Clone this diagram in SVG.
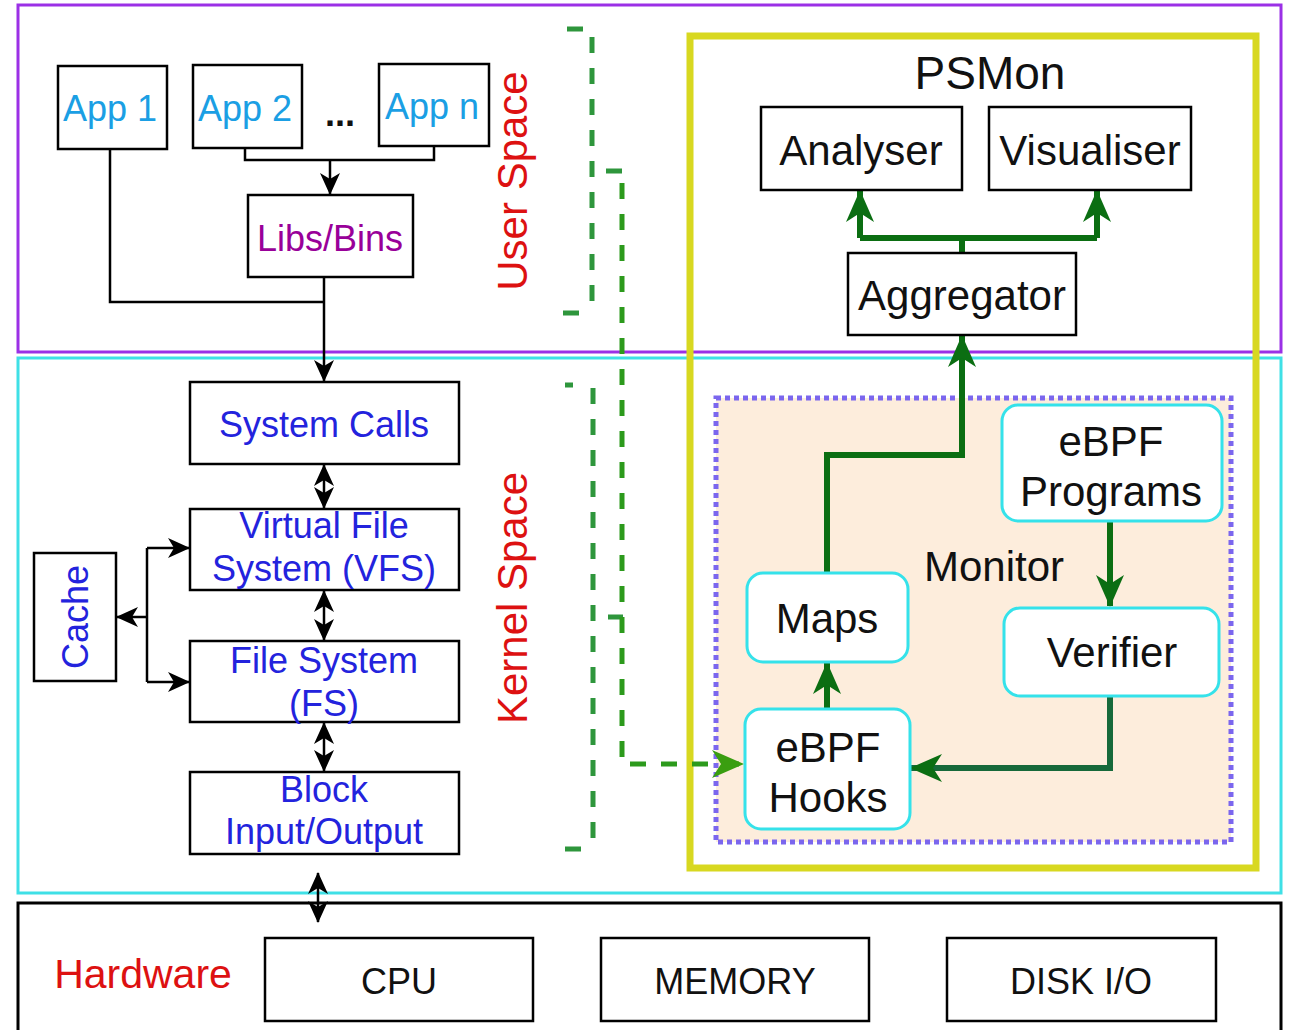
<svg xmlns="http://www.w3.org/2000/svg" width="1291" height="1030" viewBox="0 0 1291 1030">
<style>
text{font-family:"Liberation Sans",Arial,sans-serif;text-anchor:middle}
.box{fill:#fff;stroke:#000;stroke-width:2.5}
.rbox{fill:#fff;stroke:#35e2ea;stroke-width:3}
.app{font-size:36px;fill:#1b9fe4}
.kern{font-size:36px;fill:#2323dd}
.red{font-size:42px;fill:#dd1111}
.ps{font-size:42px;fill:#111}
.hw{font-size:36px;fill:#111}
.blk{fill:none;stroke:#000;stroke-width:2.5}
.grn{fill:none;stroke:#0b6e12;stroke-width:6}
.dash{fill:none;stroke:#2e963c;stroke-width:5;stroke-dasharray:16 15}
</style>
<defs>
<marker id="ab" markerUnits="userSpaceOnUse" viewBox="0 0 22 20" refX="21" refY="10" markerWidth="22" markerHeight="20" orient="auto-start-reverse"><path d="M0,0 L22,10 L0,20 L6,10 z" fill="#000"/></marker>
<marker id="ag" markerUnits="userSpaceOnUse" viewBox="0 0 32 28" refX="31" refY="14" markerWidth="32" markerHeight="28" orient="auto"><path d="M0,0 L32,14 L0,28 L9,14 z" fill="#0b6e12"/></marker>
<marker id="ad" markerUnits="userSpaceOnUse" viewBox="0 0 32 28" refX="31" refY="14" markerWidth="32" markerHeight="28" orient="auto"><path d="M0,0 L32,14 L0,28 L9,14 z" fill="#3a9e10"/></marker>
</defs>
<rect width="1291" height="1030" fill="#fff"/>
<g id="regions">
<rect x="18" y="5" width="1263" height="347" fill="none" stroke="#9b30e6" stroke-width="3"/>
<rect x="18" y="358" width="1263" height="535" fill="none" stroke="#3fe0e6" stroke-width="3"/>
<rect x="18" y="903" width="1263" height="140" fill="none" stroke="#000" stroke-width="3"/>
<rect id="psmon" x="690" y="36" width="566" height="832" fill="none" stroke="#d8d820" stroke-width="7"/>
<rect id="monitor" x="716" y="398" width="515" height="444" fill="#fdeddc" stroke="#7b66ee" stroke-width="5" stroke-dasharray="5 4"/>
<text class="red" transform="translate(527,181) rotate(-90)">User Space</text>
<text class="red" transform="translate(527,598) rotate(-90)">Kernel Space</text>
<text x="143" y="988" style="font-size:41px;fill:#dd1111">Hardware</text>
<text x="990" y="89" style="font-size:46px;fill:#111">PSMon</text>
<text x="994" y="581" class="ps">Monitor</text>
</g>
<g id="connectors">
<path class="blk" d="M245,148 V160 H434 V146"/>
<path class="blk" d="M330,160 V194" marker-end="url(#ab)"/>
<path class="blk" d="M110,149 V302 H324"/>
<path class="blk" d="M324,277 V381" marker-end="url(#ab)"/>
<path class="blk" d="M324,465 V508" marker-start="url(#ab)" marker-end="url(#ab)"/>
<path class="blk" d="M324,591 V640" marker-start="url(#ab)" marker-end="url(#ab)"/>
<path class="blk" d="M324,723 V771" marker-start="url(#ab)" marker-end="url(#ab)"/>
<path class="blk" d="M318,873 V922" marker-start="url(#ab)" marker-end="url(#ab)"/>
<path class="blk" d="M147,617 H117" marker-end="url(#ab)"/>
<path class="blk" d="M147,548 V682"/>
<path class="blk" d="M147,548 H189" marker-end="url(#ab)"/>
<path class="blk" d="M147,682 H189" marker-end="url(#ab)"/>
<path class="grn" d="M962,253 V238 M860,238 H1097"/>
<path class="grn" d="M860,238 V191" marker-end="url(#ag)"/>
<path class="grn" d="M1097,238 V191" marker-end="url(#ag)"/>
<path class="grn" d="M827,573 V455 H962 V336" marker-end="url(#ag)"/>
<path class="grn" d="M827,709 V663" marker-end="url(#ag)"/>
<path class="grn" d="M1110,521 V606" marker-end="url(#ag)"/>
<path class="grn" d="M1110,696 V768 H911" marker-end="url(#ag)" style="stroke:#16693a"/>
<path class="dash" d="M567,29 H583 M592,37 V312 M563,313 H579"/>
<path class="dash" d="M565,385 H573 M593,388 V848 M565,849 H581"/>
<path class="dash" d="M606,171 H623 M608,617 H623"/>
<path class="dash" d="M622,183 V764 H743" marker-end="url(#ad)" style="stroke:#2c9a1c"/>
</g>
<g id="app1"><rect class="box" x="58" y="66" width="109" height="83"/><text class="app" x="110" y="121">App 1</text></g>
<g id="app2"><rect class="box" x="193" y="65" width="109" height="83"/><text class="app" x="245" y="121">App 2</text></g>
<g id="dots"><text x="340" y="126" style="font-size:36px;font-weight:bold;fill:#111">...</text></g>
<g id="appn"><rect class="box" x="379" y="64" width="110" height="82"/><text class="app" x="432" y="119">App n</text></g>
<g id="libs"><rect class="box" x="248" y="195" width="165" height="82"/><text x="330" y="251" style="font-size:36px;fill:#990099">Libs/Bins</text></g>
<g id="syscalls"><rect class="box" x="190" y="382" width="269" height="82"/><text class="kern" x="324" y="437">System Calls</text></g>
<g id="vfs"><rect class="box" x="190" y="509" width="269" height="81"/><text class="kern" x="324" y="538">Virtual File</text><text class="kern" x="324" y="581">System (VFS)</text></g>
<g id="fs"><rect class="box" x="190" y="641" width="269" height="81"/><text class="kern" x="324" y="673">File System</text><text class="kern" x="324" y="716">(FS)</text></g>
<g id="blockio"><rect class="box" x="190" y="772" width="269" height="82"/><text class="kern" x="324" y="802">Block</text><text class="kern" x="324" y="844">Input/Output</text></g>
<g id="cache"><rect class="box" x="34" y="553" width="82" height="128"/><text class="kern" transform="translate(88,617) rotate(-90)">Cache</text></g>
<g id="analyser"><rect class="box" x="761" y="107" width="201" height="83"/><text class="ps" x="861" y="165">Analyser</text></g>
<g id="visualiser"><rect class="box" x="989" y="107" width="202" height="83"/><text class="ps" x="1090" y="165">Visualiser</text></g>
<g id="aggregator"><rect class="box" x="848" y="253" width="228" height="82"/><text class="ps" x="962" y="310">Aggregator</text></g>
<g id="programs"><rect class="rbox" x="1002" y="405" width="220" height="116" rx="16"/><text class="ps" x="1111" y="456">eBPF</text><text class="ps" x="1111" y="506">Programs</text></g>
<g id="verifier"><rect class="rbox" x="1004" y="608" width="215" height="88" rx="16"/><text class="ps" x="1112" y="667">Verifier</text></g>
<g id="maps"><rect class="rbox" x="747" y="573" width="161" height="89" rx="16"/><text class="ps" x="827" y="633">Maps</text></g>
<g id="hooks"><rect class="rbox" x="745" y="709" width="165" height="120" rx="16"/><text class="ps" x="828" y="762">eBPF</text><text class="ps" x="828" y="812">Hooks</text></g>
<g id="cpu"><rect class="box" x="265" y="938" width="268" height="83"/><text class="hw" x="399" y="994">CPU</text></g>
<g id="memory"><rect class="box" x="601" y="938" width="268" height="83"/><text class="hw" x="735" y="994">MEMORY</text></g>
<g id="disk"><rect class="box" x="947" y="938" width="269" height="83"/><text class="hw" x="1081" y="994">DISK I/O</text></g>
</svg>
